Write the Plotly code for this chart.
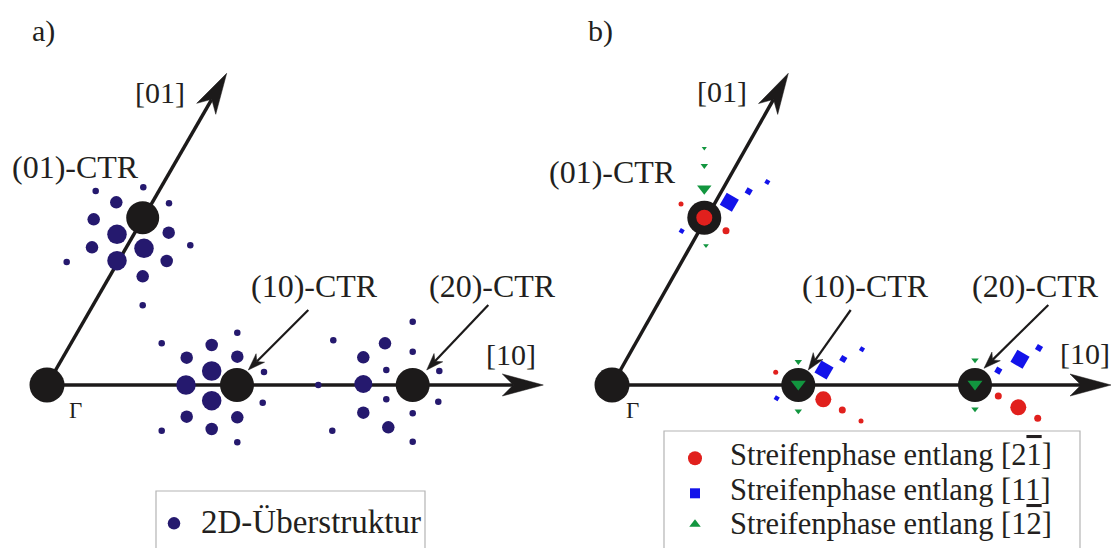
import numpy as np
import plotly.graph_objects as go

# ---------------------------------------------------------------------------
# Diagram coordinates (x to the right, y downwards, one unit = one pixel)
# ---------------------------------------------------------------------------

# Panel a) : origin Gamma and the crystal truncation rods
ctr_a_name = ["Γ", "(01)", "(10)", "(20)"]
ctr_a_x = [47.0, 142.7, 237.0, 412.7]
ctr_a_y = [385.0, 217.7, 385.0, 385.0]
ctr_a_size = [35, 33, 34, 34]

# Panel a) : spots of the 2D superstructure (diameter classes)
SMALL, MEDIUM, LARGE = 6.5, 12.5, 19.5
sat_x = [95.7, 143.3, 169.0, 190.3, 66.7, 142.7,
         116.3, 93.7, 168.7, 92.0, 166.7, 142.7,
         117.0, 144.0, 117.0,
         161.7, 237.3, 264.0, 262.7, 161.7, 237.3, 318.3,
         211.7, 186.7, 237.3, 186.7, 237.3, 211.7,
         211.7, 186.0, 211.7,
         333.3, 412.7, 412.7, 386.3, 439.3, 386.3, 438.3, 412.7, 332.3, 412.7,
         385.0, 363.3, 363.3, 388.3,
         363.3]
sat_y = [191.0, 187.3, 203.3, 245.3, 262.0, 305.3,
         202.3, 219.3, 232.7, 247.3, 261.0, 276.3,
         234.3, 248.3, 260.7,
         343.3, 332.7, 372.0, 402.7, 430.7, 442.3, 385.0,
         345.0, 357.7, 356.7, 416.7, 417.3, 429.0,
         371.0, 385.0, 400.7,
         340.3, 321.7, 351.7, 370.0, 371.0, 399.3, 401.7, 413.3, 430.7, 441.7,
         343.3, 357.3, 412.7, 427.3,
         384.0]
sat_size = ([SMALL] * 6 + [MEDIUM] * 6 + [LARGE] * 3 +
            [SMALL] * 7 + [MEDIUM] * 6 + [LARGE] * 3 +
            [SMALL] * 10 + [MEDIUM] * 4 + [18.0])

# Panel b) : origin Gamma and the crystal truncation rods
ctr_b_x = [612.0, 704.3, 798.3, 975.0]
ctr_b_y = [385.0, 217.7, 385.0, 385.0]
ctr_b_size = [35, 34, 34, 34]

# Panel b) : stripe phase along [2-1] (red)
red_x = [704.3, 681.0, 726.0, 775.7, 823.3, 842.3, 861.0, 998.3, 1018.3, 1037.7]
red_y = [217.7, 204.0, 230.7, 372.3, 399.3, 410.0, 421.0, 396.0, 407.3, 418.3]
red_size = [16, 5, 7, 5, 16, 7, 5, 7, 16, 7]

# Panel b) : stripe phase along [11] (blue)
blue_x = [681.7, 729.3, 748.7, 767.3, 776.7, 824.0, 843.3, 862.0, 998.3, 1020.0, 1039.0]
blue_y = [231.0, 202.3, 191.3, 182.0, 398.3, 370.0, 359.0, 349.3, 370.7, 359.3, 348.0]
blue_size = [4.5, 14, 6, 4.5, 4.5, 14, 6, 4.5, 6, 14, 6]

# Panel b) : stripe phase along [1-2] (green)
green_x = [704.3, 704.3, 704.3, 706.0, 798.3, 798.3, 798.3, 975.0, 975.0, 975.0]
green_y = [149.3, 167.3, 191.7, 246.7, 363.3, 387.3, 412.7, 361.7, 387.3, 410.7]
green_size = [4.5, 6.5, 12.5, 5, 6.5, 13, 6.5, 6.5, 13, 6.5]

# Reciprocal lattice axes: start (Gamma) and arrow tip
axis_start = [(47.0, 385.0), (47.0, 385.0), (612.0, 385.0), (612.0, 385.0)]
axis_tip = [(543.3, 385.0), (226.7, 73.3), (1111.0, 385.0), (788.3, 73.3)]

# Pointer arrows from the CTR labels
pointer_from = [(308.3, 310.0), (488.3, 305.0), (850.7, 310.0), (1048.3, 305.0)]
pointer_to = [(248.3, 370.0), (426.7, 370.0), (808.3, 370.0), (984.0, 368.3)]

# Text labels
label_text = ["a)", "b)", "[01]", "[01]", "[10]", "[10]",
              "(01)-CTR", "(01)-CTR", "(10)-CTR", "(10)-CTR", "(20)-CTR", "(20)-CTR"]
label_x = [43, 600, 160, 721.7, 511, 1085, 75.5, 612.5, 314, 865.5, 492.5, 1035.8]
label_y = [31, 31, 92, 91, 354, 353, 167, 172, 286, 286, 286, 286]
label_size = [30, 30, 30, 30, 30, 30, 32, 32, 32, 32, 32, 32]
gamma_label_x = [75.5, 632.0]
gamma_label_y = [410.0, 410.0]

OVER = '<span style="text-decoration:overline">{}</span>'
legend_b_text = ["Streifenphase entlang [2" + OVER.format("1") + "]",
                 "Streifenphase entlang [11]",
                 "Streifenphase entlang [1" + OVER.format("2") + "]"]
legend_b_y = [455.0, 489.5, 524.0]
legend_b_marker_y = [458.3, 493.3, 524.3]

NAVY = "#25196e"
BLACK = "#1c1a1a"
RED = "#e1201d"
BLUE = "#1313ea"
GREEN = "#12963f"
TEXT = "#231f20"
FONT = "Liberation Serif, Times New Roman, serif"

fig = go.Figure()


def arrow_head(tip, start, length, half_width, notch):
    """Notched arrow head polygon pointing from start to tip."""
    t = np.array(tip)
    d = t - np.array(start)
    u = d / np.hypot(*d)
    p = np.array([-u[1], u[0]])
    back = t - length * u
    left = back + half_width * p
    right = back - half_width * p
    mid = t - (length - notch) * u
    pts = [t, left, mid, right, t]
    return [q[0] for q in pts], [q[1] for q in pts], mid


def draw_arrow(start, tip, width, length, half_width, notch):
    hx, hy, mid = arrow_head(tip, start, length, half_width, notch)
    fig.add_trace(go.Scatter(x=[start[0], mid[0]], y=[start[1], mid[1]], mode="lines",
                             line=dict(color=BLACK, width=width), hoverinfo="skip",
                             showlegend=False))
    fig.add_trace(go.Scatter(x=hx, y=hy, mode="lines", fill="toself", fillcolor=BLACK,
                             line=dict(color=BLACK, width=0.5), hoverinfo="skip",
                             showlegend=False))


def dots(x, y, color, size, symbol="circle", angle=0):
    fig.add_trace(go.Scatter(x=x, y=y, mode="markers", showlegend=False,
                             marker=dict(color=color, size=size, symbol=symbol,
                                         angle=angle, opacity=1,
                                         line=dict(width=0))))


for s, t in zip(axis_start, axis_tip):
    draw_arrow(s, t, 3.5, 41, 11, 11)
for s, t in zip(pointer_from, pointer_to):
    draw_arrow(s, t, 2.2, 17, 6, 5)

# Panel a) spots and rods
dots(sat_x, sat_y, NAVY, sat_size)
dots(ctr_a_x, ctr_a_y, BLACK, ctr_a_size)

# Panel b) rods and stripe phase spots
dots(ctr_b_x, ctr_b_y, BLACK, ctr_b_size)
dots(red_x, red_y, RED, red_size)
dots(blue_x, blue_y, BLUE, blue_size, "square", 30)
dots(green_x, [y - s / 4 for y, s in zip(green_y, green_size)], GREEN, green_size,
     "triangle-down")

annotations = []
for t, x, y, fs in zip(label_text, label_x, label_y, label_size):
    annotations.append(dict(text=t, x=x, y=y, xref="x", yref="y", showarrow=False,
                            xanchor="center", yanchor="middle",
                            font=dict(family=FONT, size=fs, color=TEXT)))
for x, y in zip(gamma_label_x, gamma_label_y):
    annotations.append(dict(text="Γ", x=x, y=y, xref="x", yref="y", showarrow=False,
                            xanchor="center", yanchor="middle",
                            font=dict(family=FONT, size=23, color=TEXT)))

# Legend boxes
shapes = [
    dict(type="rect", xref="x", yref="y", x0=156, x1=425, y0=491, y1=570,
         line=dict(color="#b4b4b4", width=1.2), fillcolor="rgba(0,0,0,0)", layer="below"),
    dict(type="rect", xref="x", yref="y", x0=664, x1=1080, y0=431, y1=570,
         line=dict(color="#b4b4b4", width=1.2), fillcolor="rgba(0,0,0,0)", layer="below"),
]

dots([174], [523.3], NAVY, [12.5])
annotations.append(dict(text="2D-Überstruktur", x=199, y=522, xref="x", yref="y",
                        showarrow=False, xanchor="left", yanchor="middle",
                        font=dict(family=FONT, size=33, color=TEXT)))

dots([695], [legend_b_marker_y[0]], RED, [14])
dots([695], [legend_b_marker_y[1]], BLUE, [10], "square")
dots([695], [legend_b_marker_y[2]], GREEN, [10], "triangle-up")
for t, y in zip(legend_b_text, legend_b_y):
    annotations.append(dict(text=t, x=728, y=y, xref="x", yref="y", showarrow=False,
                            xanchor="left", yanchor="middle",
                            font=dict(family=FONT, size=30.5, color=TEXT)))

fig.update_layout(
    width=1113, height=548,
    margin=dict(l=0, r=0, t=0, b=0),
    paper_bgcolor="white", plot_bgcolor="white",
    xaxis=dict(range=[0, 1113], visible=False, fixedrange=True),
    yaxis=dict(range=[548, 0], visible=False, fixedrange=True),
    annotations=annotations,
    shapes=shapes,
    showlegend=False,
)

fig.write_html("out.html")
